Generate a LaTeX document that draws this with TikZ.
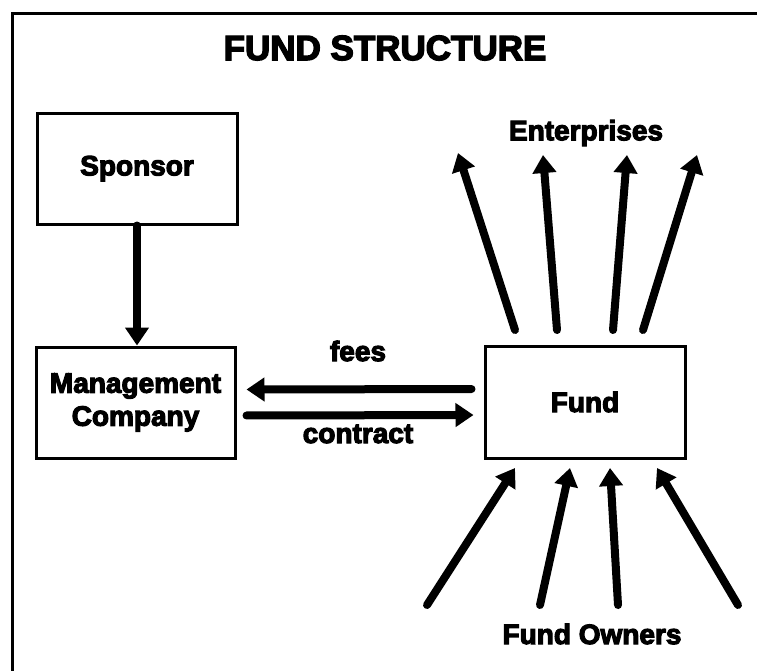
\documentclass[tikz,border=0pt]{standalone}
\usepackage{fontspec}
\newfontfamily\heavy{Liberation Sans}[UprightFont={* Bold}, FakeBold=4]
\usetikzlibrary{arrows.meta}
\tikzset{
  box/.style={draw, line width=3pt, rectangle, inner sep=0pt, font=\heavy\fontsize{28}{33}\selectfont, align=center},
  lbl/.style={inner sep=0pt, font=\heavy\fontsize{28}{33}\selectfont},
  arr/.style={line width=8pt, line cap=round, -{Triangle[width=23pt,length=18pt]}},
}
\begin{document}
\begin{tikzpicture}[x=1pt,y=-1pt]
\useasboundingbox (0,0) rectangle (757,670);
\clip (0,0) rectangle (757,670);
% outer frame
\draw[line width=3pt] (12,690) -- (12,13) -- (780,13);
% title
\node[lbl, font=\heavy\fontsize{35}{40}\selectfont] (title) at (385,48) {FUND STRUCTURE};
% boxes
\node[box, minimum width=200pt, minimum height=111pt] (sponsor) at (137,168.5) {Sponsor};
\node[box, minimum width=199pt, minimum height=111pt] (mc) at (135.5,402.5) {Management\\Company};
\node[box, minimum width=200pt, minimum height=112pt] (fund) at (585,402) {Fund};
% sponsor to management company
\draw[arr] (sponsor.south) -- (sponsor.south |- mc.north);
% fees and contract
\draw[arr, shorten <=12pt, shorten >=10pt] ([yshift=13pt]fund.west) -- ([yshift=13pt]mc.east);
\draw[arr, shorten <=10pt, shorten >=10pt] ([yshift=-13pt]mc.east) -- ([yshift=-13pt]fund.west);
\node[lbl] (fees) at (358,351) {fees};
\node[lbl] (contract) at (358,434) {contract};
% enterprises
\node[lbl] (ent) at (586,133) {Enterprises};
\coordinate (e1a) at (515,330); \coordinate (e1b) at (458,153);
\coordinate (e2a) at (557,330); \coordinate (e2b) at (543,155);
\coordinate (e3a) at (613,330); \coordinate (e3b) at (627,155);
\coordinate (e4a) at (643,330); \coordinate (e4b) at (697,155);
\foreach \i in {1,...,4} \draw[arr] (e\i a) -- (e\i b);
% fund owners
\node[lbl] (own) at (592,634) {Fund Owners};
\coordinate (o1a) at (427,605); \coordinate (o1b) at (515,468);
\coordinate (o2a) at (540,605); \coordinate (o2b) at (570,468);
\coordinate (o3a) at (618,605); \coordinate (o3b) at (610,468);
\coordinate (o4a) at (738,605); \coordinate (o4b) at (657,468);
\foreach \i in {1,...,4} \draw[arr] (o\i a) -- (o\i b);
\end{tikzpicture}
\end{document}
